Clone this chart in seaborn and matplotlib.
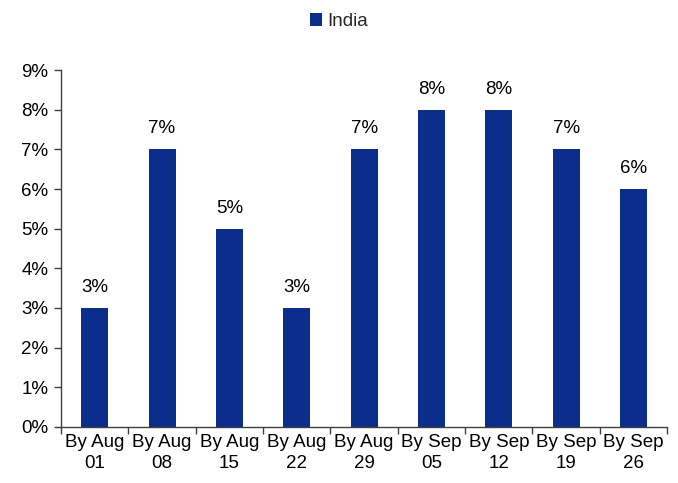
import matplotlib
matplotlib.use("Agg")
import matplotlib.pyplot as plt
import seaborn as sns
import pandas as pd
from matplotlib.ticker import FuncFormatter

categories = ["By Aug\n01", "By Aug\n08", "By Aug\n15", "By Aug\n22", "By Aug\n29",
              "By Sep\n05", "By Sep\n12", "By Sep\n19", "By Sep\n26"]
india = [0.03, 0.07, 0.05, 0.03, 0.07, 0.08, 0.08, 0.07, 0.06]
series_name = "India"

sns.set_theme(style="white")
plt.rcParams["font.family"] = ["Liberation Sans", "DejaVu Sans"]

df = pd.DataFrame({"period": categories, "share": india, "series": series_name})

fig = plt.figure(figsize=(6.78, 4.83), dpi=100)
ax = fig.add_axes([0.09, 0.116, 0.894, 0.739])

bar_color = "#0B2D8C"
fs = 13.5
sns.barplot(data=df, x="period", y="share", hue="series", palette=[bar_color],
            width=0.4, ax=ax, saturation=1, linewidth=0)

for i, v in enumerate(india):
    ax.text(i, v + 0.003, f"{v*100:.0f}%", ha="center", va="bottom", fontsize=fs, color="black")

ax.set_xlim(-0.5, len(categories) - 0.5)
ax.set_ylim(0, 0.09)
ax.set_yticks([i / 100 for i in range(10)])
ax.yaxis.set_major_formatter(FuncFormatter(lambda y, _: f"{y*100:.0f}%"))

# labels sit on minor ticks at the bar centres; major ticks mark category borders
ax.set_xticks([i - 0.5 for i in range(len(categories) + 1)])
ax.set_xticklabels([])
ax.set_xticks(range(len(categories)), categories, minor=True)
ax.tick_params(axis="x", which="major", direction="out", length=5, width=1, color="#404040", bottom=True)
ax.tick_params(axis="x", which="minor", length=0, labelsize=fs, pad=5, labelcolor="black")
ax.tick_params(axis="y", direction="out", length=5, width=1, color="#404040", left=True,
               labelsize=fs, labelcolor="black", pad=4)
for lbl in ax.get_xticklabels(minor=True):
    lbl.set_linespacing(1.3)

ax.set_xlabel("")
ax.set_ylabel("")
for s in ["top", "right"]:
    ax.spines[s].set_visible(False)
for s in ["left", "bottom"]:
    ax.spines[s].set_color("#404040")
    ax.spines[s].set_linewidth(1)

sns.move_legend(ax, "upper center", bbox_to_anchor=(0.5, 1.008), bbox_transform=fig.transFigure,
                frameon=False, title=None, fontsize=fs, handlelength=0.65, handleheight=0.65,
                handletextpad=0.25)

fig.savefig("out.png", dpi=100)
